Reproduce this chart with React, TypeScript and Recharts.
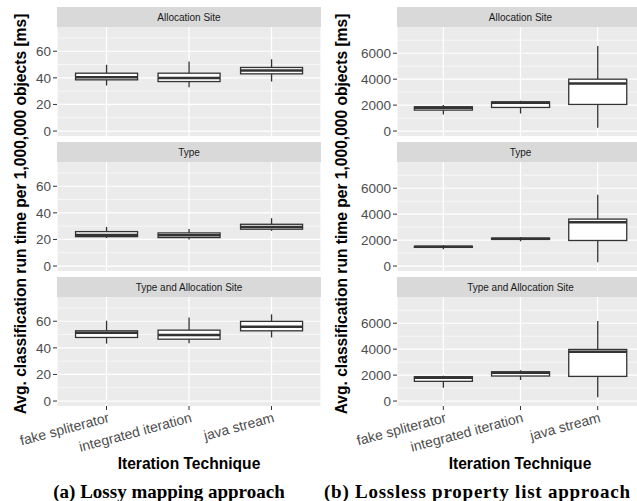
import React from 'react';
import { ComposedChart, Bar, XAxis, YAxis, CartesianGrid } from 'recharts';

// iteration techniques (x categories) and facet labels
const categories = ['fake spliterator', 'integrated iteration', 'java stream'];
const facets = ['Allocation Site', 'Type', 'Type and Allocation Site'];

// box stats per category: [min, q1, median, q3, max]
const lossyAllocationSite = [
  [34.2, 38.5, 40.5, 43.5, 49.8],
  [33, 37.2, 39.8, 43.5, 52.3],
  [37.2, 43, 45.5, 47.8, 54],
];
const lossyType = [
  [21.1, 22.1, 23.4, 25.9, 29.4],
  [19.9, 21.4, 23.2, 24.9, 27.9],
  [26.4, 27.7, 29.4, 31.4, 36],
];
const lossyTypeAndAllocation = [
  [43.2, 47.8, 51.3, 52.8, 60.4],
  [43.5, 46.5, 49.6, 53.3, 62.9],
  [47.8, 52.8, 55.9, 59.9, 65.2],
];

const losslessAllocationSite = [
  [1280, 1615, 1800, 1870, 2000],
  [1360, 1820, 2180, 2250, 2330],
  [250, 2050, 3670, 4000, 6560],
];
const losslessType = [
  [1290, 1440, 1480, 1520, 1617],
  [1917, 2050, 2110, 2150, 2240],
  [290, 1970, 3370, 3620, 5500],
];
const losslessTypeAndAllocation = [
  [1020, 1520, 1800, 1875, 1950],
  [1625, 1930, 2180, 2255, 2380],
  [300, 1900, 3800, 3980, 6180],
];

const lossyTicks = [0, 20, 40, 60];
const lossyMinor = [10, 30, 50, 70];
const losslessTicks = [0, 2000, 4000, 6000];
const losslessMinor = [1000, 3000, 5000, 7000];

const SANS = '"Liberation Sans", Arial, sans-serif';
const SERIF = '"Liberation Serif", "Times New Roman", serif';

const toRows = (stats: number[][]) =>
  categories.map((name, i) => ({
    name,
    min: stats[i][0],
    q1: stats[i][1],
    median: stats[i][2],
    q3: stats[i][3],
    max: stats[i][4],
  }));

// box drawn inside the [min, max] range bar
const BoxShape = (props: any) => {
  const { x, y, width, height, payload } = props;
  const top = Math.min(y, y + height);
  const h = Math.abs(height);
  const { min, q1, median, q3, max } = payload;
  const py = (v: number) => top + ((max - v) / (max - min)) * h;
  const cx = x + width / 2;
  return (
    <g>
      <line x1={cx} x2={cx} y1={py(max)} y2={py(q3)} stroke="#333" strokeWidth={1.3} />
      <line x1={cx} x2={cx} y1={py(q1)} y2={py(min)} stroke="#333" strokeWidth={1.3} />
      <rect x={x} y={py(q3)} width={width} height={py(q1) - py(q3)} fill="#fff" stroke="#333" strokeWidth={1.3} />
      <line x1={x} x2={x + width} y1={py(median)} y2={py(median)} stroke="#333" strokeWidth={2.5} />
    </g>
  );
};

const XTick = (props: any) => {
  const { x, y, payload } = props;
  return (
    <text
      x={x + 1}
      y={y}
      dy="0.72em"
      textAnchor="end"
      fill="#4d4d4d"
      fontSize={14}
      fontFamily={SANS}
      transform={`rotate(-15, ${x + 1}, ${y})`}
    >
      {payload.value}
    </text>
  );
};

const PANEL_H = 109;
const STRIP_H = 20;

interface FacetProps {
  label: string;
  stats: number[][];
  top: number;
  left: number;
  axisWidth: number;
  plotWidth: number;
  domain: [number, number];
  ticks: number[];
  minor: number[];
  last: boolean;
}

const Facet: React.FC<FacetProps> = ({ label, stats, top, left, axisWidth, plotWidth, domain, ticks, minor, last }) => {
  const rows = toRows(stats);
  const pad = (plotWidth / 3.2) * 0.1;
  const bottom = last ? 60 : 12;
  return (
    <>
      <div
        style={{
          position: 'absolute', left: left + axisWidth, top, width: plotWidth, height: STRIP_H,
          background: '#d9d9d9', color: '#1a1a1a', fontFamily: SANS, fontSize: 10,
          display: 'flex', alignItems: 'center', justifyContent: 'center',
        }}
      >
        {label}
      </div>
      <div style={{ position: 'absolute', left, top: top + STRIP_H }}>
        <ComposedChart
          width={axisWidth + plotWidth}
          height={PANEL_H + bottom}
          data={rows}
          margin={{ top: 0, right: 0, bottom: last ? 0 : bottom, left: 0 }}
          barCategoryGap="12.5%"
        >
          <CartesianGrid
            horizontalValues={minor}
            vertical={false}
            stroke="#fff"
            strokeWidth={0.6}
            fill="#ebebeb"
          />
          <CartesianGrid horizontalValues={ticks} stroke="#fff" strokeWidth={1.2} />
          <XAxis
            dataKey="name"
            type="category"
            hide={!last}
            height={last ? bottom : 0}
            padding={{ left: pad, right: pad }}
            axisLine={false}
            tickLine={{ stroke: '#333', strokeWidth: 1 }}
            tickSize={4}
            interval={0}
            tick={<XTick />}
          />
          <YAxis
            type="number"
            domain={domain}
            ticks={ticks}
            allowDataOverflow
            width={axisWidth}
            axisLine={false}
            tickLine={{ stroke: '#333', strokeWidth: 1 }}
            tickSize={4}
            tickMargin={2}
            tick={{ fill: '#4d4d4d', fontSize: 13.5, fontFamily: SANS }}
          />
          <Bar
            dataKey={(d: any) => [d.min, d.max]}
            shape={BoxShape}
            isAnimationActive={false}
          />
        </ComposedChart>
      </div>
    </>
  );
};

const lossyFacets = [lossyAllocationSite, lossyType, lossyTypeAndAllocation];
const losslessFacets = [losslessAllocationSite, losslessType, losslessTypeAndAllocation];

const yTitle = 'Avg. classification run time per 1,000,000 objects [ms]';

export default function App() {
  return (
    <div style={{ position: 'absolute', left: 0, top: 0, width: 637, height: 501, overflow: 'hidden', background: '#fff' }}>
      {facets.map((f, i) => (
        <Facet
          key={'a' + f}
          label={f}
          stats={lossyFacets[i]}
          top={7 + i * 135}
          left={0}
          axisWidth={57}
          plotWidth={264}
          domain={[-3.725, 78.225]}
          ticks={lossyTicks}
          minor={lossyMinor}
          last={i === 2}
        />
      ))}
      {facets.map((f, i) => (
        <Facet
          key={'b' + f}
          label={f}
          stats={losslessFacets[i]}
          top={7 + i * 135}
          left={320}
          axisWidth={77}
          plotWidth={247}
          domain={[-382, 8022]}
          ticks={losslessTicks}
          minor={losslessMinor}
          last={i === 2}
        />
      ))}
      <svg width={637} height={501} style={{ position: 'absolute', left: 0, top: 0, pointerEvents: 'none' }}>
        <text transform="translate(26,214) rotate(-90)" textAnchor="middle" fontFamily={SANS} fontWeight="bold" fontSize={15.6} fill="#000">
          {yTitle}
        </text>
        <text transform="translate(347,214) rotate(-90)" textAnchor="middle" fontFamily={SANS} fontWeight="bold" fontSize={15.6} fill="#000">
          {yTitle}
        </text>
        <text x={189} y={469} textAnchor="middle" fontFamily={SANS} fontWeight="bold" fontSize={15.6} fill="#000">
          Iteration Technique
        </text>
        <text x={520} y={469} textAnchor="middle" fontFamily={SANS} fontWeight="bold" fontSize={15.6} fill="#000">
          Iteration Technique
        </text>
        <text x={169} y={498} textAnchor="middle" fontFamily={SERIF} fontWeight="bold" fontSize={19} fill="#000">
          (a) Lossy mapping approach
        </text>
        <text
          x={477}
          y={498}
          textAnchor="middle"
          fontFamily={SERIF}
          fontWeight="bold"
          fontSize={19}
          fill="#000"
          textLength={306}
          lengthAdjust="spacing"
        >
          (b) Lossless property list approach
        </text>
      </svg>
    </div>
  );
}
